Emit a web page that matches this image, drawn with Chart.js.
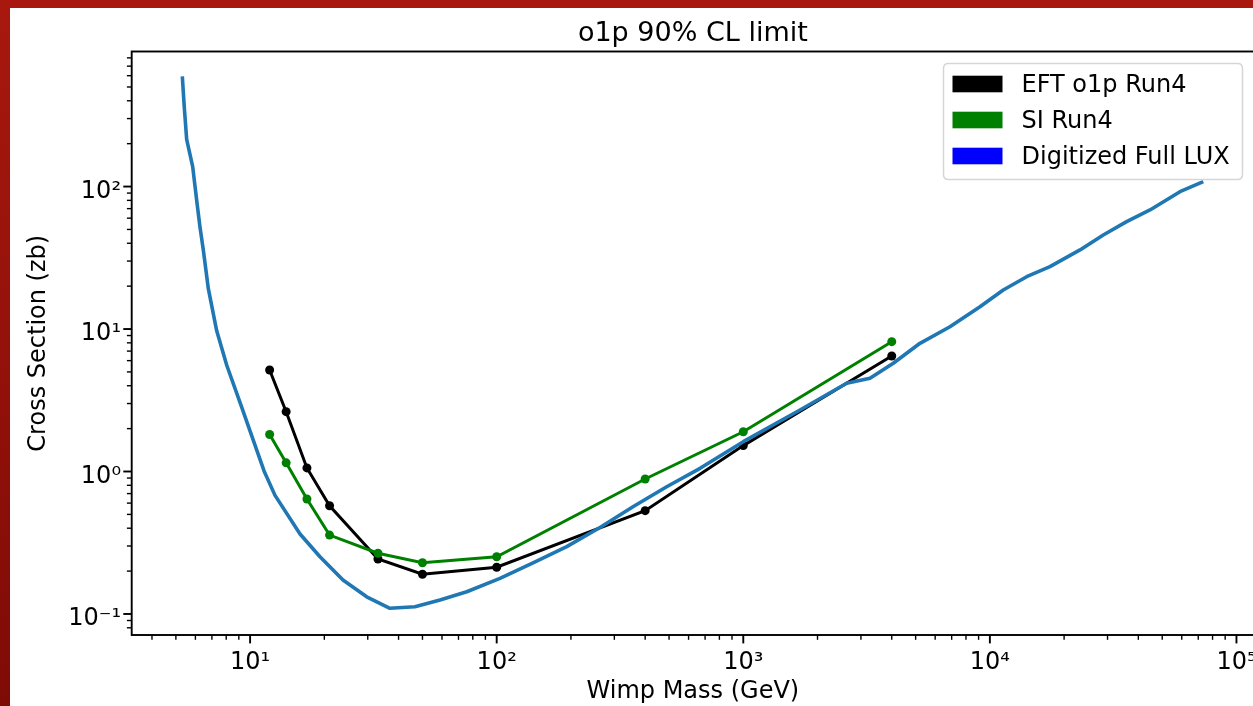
<!DOCTYPE html>
<html>
<head>
<meta charset="utf-8">
<script src="https://cdn.jsdelivr.net/npm/chart.js@4"></script>
<style>
html,body{margin:0;padding:0;background:#fff;overflow:hidden;width:1253px;height:706px;}
#wrap{position:relative;width:1253px;height:706px;overflow:hidden;background:#fff;}
#c{position:absolute;left:0;top:0;}
#bt{position:absolute;left:0;top:0;width:1253px;height:8px;background:#a8180e;}
#bl{position:absolute;left:0;top:0;width:10px;height:706px;background:linear-gradient(#a8180e,#7f0b06);}
</style>
</head>
<body>
<div id="wrap">
<canvas id="c" width="1290" height="706" style="width:1290px;height:706px"></canvas>
<div id="bt"></div><div id="bl"></div>
</div>
<script>
// ---- data ----
const massPoints = [12, 14, 17, 21, 33, 50, 100, 400, 1000, 4000];
const eftSigma   = [5.16, 2.63, 1.06, 0.575, 0.243, 0.190, 0.213, 0.531, 1.52, 6.47];
const siSigma    = [1.82, 1.15, 0.641, 0.358, 0.267, 0.229, 0.252, 0.886, 1.90, 8.15];
const luxMass  = [5.31, 5.40, 5.53, 5.85, 6.07, 6.26, 6.46, 6.77, 7.32, 8.04, 9.25, 11.39, 12.62, 15.94, 19.2, 23.8, 29.7, 36.9, 46.6, 58.9, 75.6, 103.1, 140.4, 192.3, 262.4, 357, 489, 668, 1000, 1698, 2626, 3265, 4058, 5206, 6889, 9118, 11330, 14100, 17530, 23200, 28830, 35860, 44600, 59000, 73340];
const luxSigma = [593, 374, 214, 138, 80.5, 52.3, 35.9, 19.2, 9.72, 5.57, 2.82, 1.01, 0.680, 0.364, 0.252, 0.173, 0.132, 0.1096, 0.1125, 0.1253, 0.1433, 0.178, 0.228, 0.297, 0.405, 0.566, 0.782, 1.053, 1.619, 2.70, 4.16, 4.51, 5.75, 7.94, 10.38, 14.35, 18.79, 23.3, 27.4, 35.9, 45.7, 56.7, 68.5, 92.0, 108.2];
const xTickValues = [10, 100, 1000, 10000, 100000];
const xTickLabels = ['10\u00B9', '10\u00B2', '10\u00B3', '10\u2074', '10\u2075'];
const yTickValues = [0.1, 1, 10, 100];
const yTickLabels = ['10\u207B\u00B9', '10\u2070', '10\u00B9', '10\u00B2'];
const seriesNames = ['EFT o1p Run4', 'SI Run4', 'Digitized Full LUX'];
const legendColors = ['#000000', '#008000', '#0000ff'];
const lineColors = ['#000000', '#008000', '#1f77b4'];
const titleText = 'o1p 90% CL limit';
const xTitle = 'Wimp Mass (GeV)';
const yTitle = 'Cross Section (zb)';
const xRange = [3.31, 117800];
const yRange = [0.0712, 887];

const FONT = "'DejaVu Sans', 'Liberation Sans', sans-serif";
const pts = (xs, ys) => xs.map((x, i) => ({x: x, y: ys[i]}));

function minorTicks(lo, hi) {
  const out = [];
  for (let e = Math.floor(Math.log10(lo)); e <= Math.ceil(Math.log10(hi)); e++) {
    for (let m = 2; m <= 9; m++) {
      const v = m * Math.pow(10, e);
      if (v >= lo && v <= hi) out.push(v);
    }
  }
  return out;
}

const decor = {
  id: 'decor',
  afterDatasetsDraw(chart) {
    const ctx = chart.ctx, a = chart.chartArea;
    const xs = chart.scales.x, ys = chart.scales.y;
    ctx.save();
    ctx.strokeStyle = '#000';
    const seg = (x1, y1, x2, y2) => { ctx.beginPath(); ctx.moveTo(x1, y1); ctx.lineTo(x2, y2); ctx.stroke(); };
    // minor ticks
    ctx.lineWidth = 1.4;
    minorTicks(xs.min, xs.max).forEach(v => { const p = xs.getPixelForValue(v); seg(p, a.bottom, p, a.bottom + 4.8); });
    minorTicks(ys.min, ys.max).forEach(v => { const p = ys.getPixelForValue(v); seg(a.left, p, a.left - 4.8, p); });
    // major ticks
    ctx.lineWidth = 1.9;
    xTickValues.forEach(v => { const p = xs.getPixelForValue(v); seg(p, a.bottom, p, a.bottom + 8.4); });
    yTickValues.forEach(v => { const p = ys.getPixelForValue(v); seg(a.left, p, a.left - 8.4, p); });
    // spines
    ctx.lineWidth = 1.9;
    ctx.strokeRect(a.left, a.top, a.right - a.left, a.bottom - a.top);
    // legend
    const L = a.right - 310.5, T = a.top + 12, W = 299, H = 116, r = 5;
    ctx.beginPath();
    ctx.moveTo(L + r, T); ctx.lineTo(L + W - r, T); ctx.quadraticCurveTo(L + W, T, L + W, T + r);
    ctx.lineTo(L + W, T + H - r); ctx.quadraticCurveTo(L + W, T + H, L + W - r, T + H);
    ctx.lineTo(L + r, T + H); ctx.quadraticCurveTo(L, T + H, L, T + H - r);
    ctx.lineTo(L, T + r); ctx.quadraticCurveTo(L, T, L + r, T);
    ctx.closePath();
    ctx.fillStyle = 'rgba(255,255,255,0.8)';
    ctx.fill();
    ctx.strokeStyle = '#d6d6d6';
    ctx.lineWidth = 1.5;
    ctx.stroke();
    ctx.font = '24px ' + FONT;
    ctx.textBaseline = 'middle';
    ctx.textAlign = 'left';
    seriesNames.forEach((name, i) => {
      const cy = T + 20.5 + i * 36;
      ctx.fillStyle = legendColors[i];
      ctx.fillRect(L + 9, cy - 8.3, 50, 16.6);
      ctx.fillStyle = '#000';
      ctx.fillText(name, L + 78, cy + 2);
    });
    ctx.restore();
  }
};

new Chart(document.getElementById('c'), {
  type: 'line',
  data: {
    datasets: [
      {label: seriesNames[0], data: pts(massPoints, eftSigma), borderColor: lineColors[0], backgroundColor: lineColors[0],
       borderWidth: 3, pointRadius: 4.5, pointBorderWidth: 0, pointBackgroundColor: lineColors[0], tension: 0, fill: false, order: 3},
      {label: seriesNames[1], data: pts(massPoints, siSigma), borderColor: lineColors[1], backgroundColor: lineColors[1],
       borderWidth: 3, pointRadius: 4.5, pointBorderWidth: 0, pointBackgroundColor: lineColors[1], tension: 0, fill: false, order: 2},
      {label: seriesNames[2], data: pts(luxMass, luxSigma), borderColor: lineColors[2], backgroundColor: lineColors[2],
       borderWidth: 3.6, pointRadius: 0, tension: 0, fill: false, order: 1, borderJoinStyle: 'round'}
    ]
  },
  options: {
    responsive: false,
    animation: false,
    devicePixelRatio: 1,
    layout: {padding: {left: 0, top: 0, right: 36, bottom: 0}},
    plugins: {
      legend: {display: false},
      tooltip: {enabled: false},
      title: {
        display: true, text: titleText, fullSize: false, color: '#000',
        font: {family: FONT, size: 27, weight: 'normal', lineHeight: 1.2},
        padding: {top: 17.8, bottom: 1.3}
      }
    },
    scales: {
      x: {
        type: 'logarithmic', position: 'bottom', min: xRange[0], max: xRange[1],
        grid: {display: false, drawTicks: false}, border: {display: false},
        ticks: {
          font: {family: FONT, size: 24}, color: '#000', padding: 13, maxRotation: 0, autoSkip: false,
          callback: (v) => { const i = xTickValues.indexOf(v); return i >= 0 ? xTickLabels[i] : ''; }
        },
        afterBuildTicks: (s) => { s.ticks = xTickValues.map(v => ({value: v})); },
        afterFit: (s) => { s.height = 71; },
        title: {display: true, text: xTitle, color: '#000', font: {family: FONT, size: 24, lineHeight: 1.2}, padding: {top: 0, bottom: 0}}
      },
      y: {
        type: 'logarithmic', position: 'left', min: yRange[0], max: yRange[1],
        grid: {display: false, drawTicks: false}, border: {display: false},
        ticks: {
          font: {family: FONT, size: 24}, color: '#000', padding: 10.7, labelOffset: 5, autoSkip: false,
          callback: (v) => { const i = yTickValues.indexOf(v); return i >= 0 ? yTickLabels[i] : ''; }
        },
        afterBuildTicks: (s) => { s.ticks = yTickValues.map(v => ({value: v})); },
        afterFit: (s) => { s.width = 131.7; },
        title: {display: true, text: yTitle, color: '#000', font: {family: FONT, size: 24, lineHeight: 1.2}, padding: {top: 24.6, bottom: 0}}
      }
    }
  },
  plugins: [decor]
});
</script>
</body>
</html>
